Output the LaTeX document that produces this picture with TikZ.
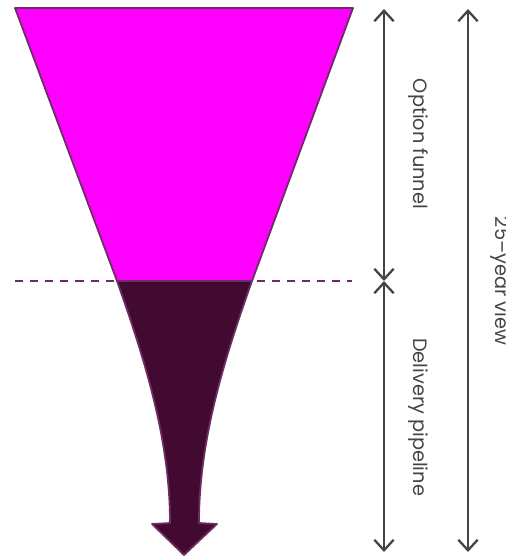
\documentclass[tikz,border=0pt]{standalone}
\usepackage{fontspec}
\setmainfont{Poppins}
\usetikzlibrary{arrows.meta}
\definecolor{funnelpink}{HTML}{FF00FF}
\definecolor{pipedark}{HTML}{420A30}
\definecolor{edgeplum}{HTML}{6E2C64}
\definecolor{dimgray}{HTML}{444444}

\begin{document}
\begin{tikzpicture}[x=0.02cm,y=-0.02cm,
 dimline/.style={draw=dimgray,line width=1.3pt,{Straight Barb[length=6pt,width=11pt]}-{Straight Barb[length=6pt,width=11pt]}},
 dimlabel/.style={text=dimgray,rotate=-90,inner sep=0pt,font=\fontsize{11}{13}\selectfont},
 stagefill/.style={draw=edgeplum,line width=1pt,line join=round}]
\useasboundingbox (0,0) rectangle (506,556);
\clip (0,0) rectangle (506,556);
% split between the two stages
\draw[edgeplum,line width=1.4pt,dash pattern=on 4.6pt off 4pt] (15,281) -- (352,281);
\draw[stagefill,fill=funnelpink] (15,8) -- (353,8) -- (252,281) -- (117,281) -- cycle;
\draw[stagefill,fill=pipedark] (117,281) .. controls (145,360) and (170,440) .. (170,523)
 -- (152,524) -- (184,555) -- (217,524) -- (199,523)
 .. controls (199,440) and (224,360) .. (252,281) -- cycle;
% dimension arrows
\coordinate (ftop) at (384,9);
\coordinate (fmid) at (384,281);
\coordinate (fbot) at (384,552);
\coordinate (vtop) at (468,9);
\coordinate (vbot) at (468,552);
\draw[dimline] (ftop) -- (fmid);
\draw[dimline] (fmid) -- (fbot);
\draw[dimline] (vtop) -- (vbot);
\node[dimlabel] (optlbl) at (418,144) {Option funnel};
\node[dimlabel] (dellbl) at (418,417) {Delivery pipeline};
\node[dimlabel] (viewlbl) at (500,281) {25–year view};
\end{tikzpicture}
\end{document}
